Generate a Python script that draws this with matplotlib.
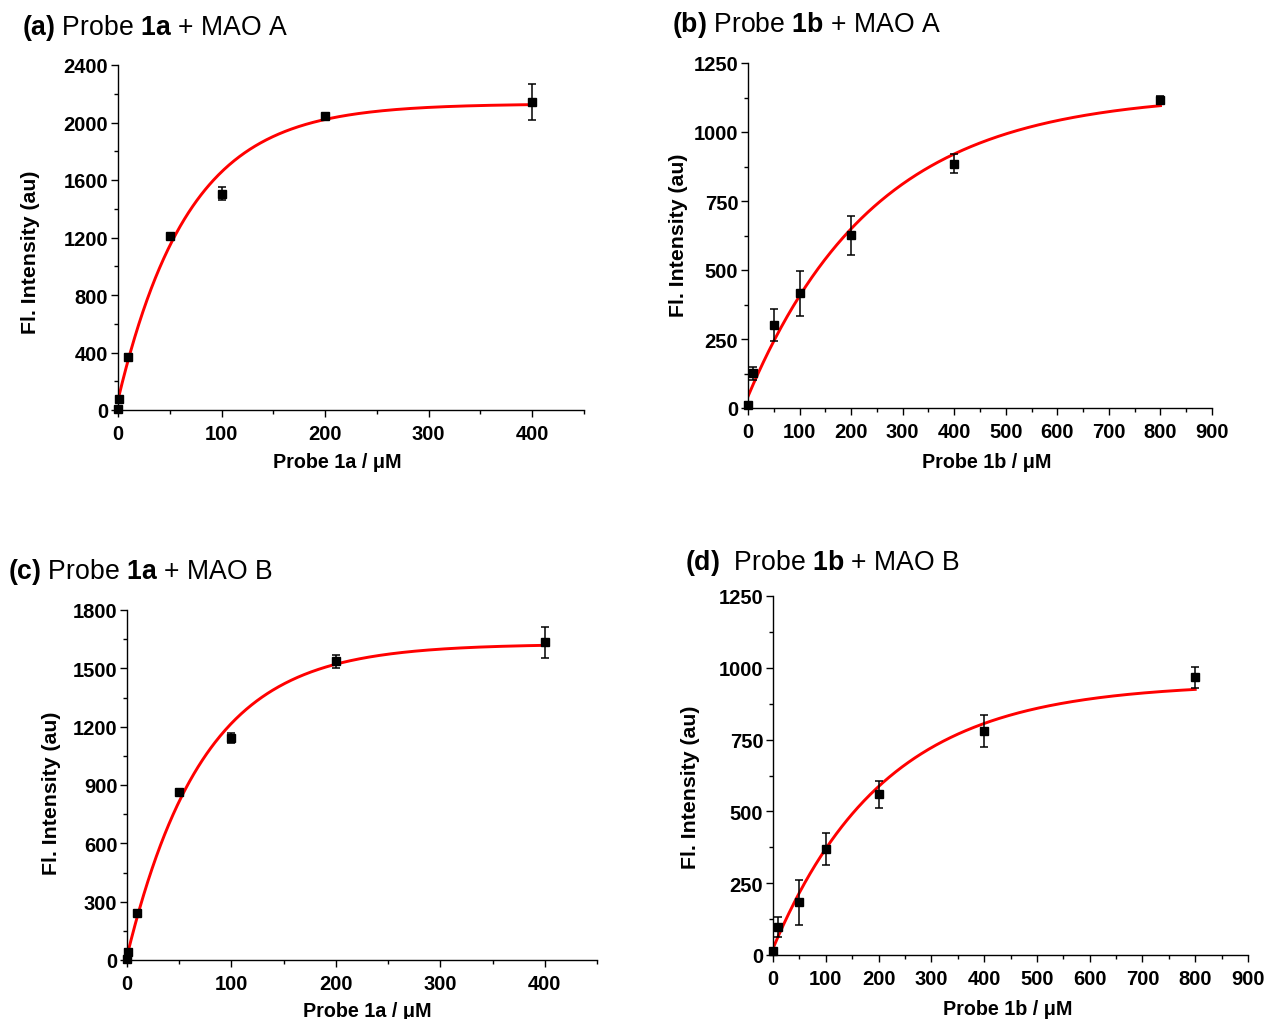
import numpy as np
import matplotlib
matplotlib.use("Agg")
import matplotlib.pyplot as plt
from matplotlib.ticker import MultipleLocator

plt.rcParams['font.family'] = ['Liberation Sans', 'DejaVu Sans']
plt.rcParams['mathtext.fontset'] = 'custom'
plt.rcParams['mathtext.rm'] = 'Liberation Sans'
plt.rcParams['mathtext.bf'] = 'Liberation Sans:bold'

# ---- data ----
xa = [0, 1, 10, 50, 100, 200, 400]
ya = [8, 75, 368, 1210, 1505, 2042, 2142]
ea = [5, 15, 20, 15, 43, 20, 125]

xb = [0, 10, 50, 100, 200, 400, 800]
yb = [12, 126, 301, 415, 626, 885, 1116]
eb = [8, 24, 58, 81, 70, 35, 15]

xc = [0, 1, 10, 50, 100, 200, 400]
yc = [5, 42, 240, 866, 1143, 1536, 1634]
ec = [3, 15, 12, 12, 25, 35, 81]

xd = [0, 10, 50, 100, 200, 400, 800]
yd = [14, 99, 183, 369, 559, 779, 967]
ed = [10, 35, 78, 55, 48, 55, 37]

# fitted exponential-rise parameters (y0, A, tau)
fit_a = (70, 2060, 68)
fit_b = (42, 1097, 248)
fit_c = (20, 1605, 73)
fit_d = (23, 923, 212)

titles = [r"$\mathbf{(a)}$ Probe $\mathbf{1a}$ + MAO A",
          r"$\mathbf{(b)}$ Probe $\mathbf{1b}$ + MAO A",
          r"$\mathbf{(c)}$ Probe $\mathbf{1a}$ + MAO B",
          r"$\mathbf{(d)}$  Probe $\mathbf{1b}$ + MAO B"]
xlabels = ["Probe 1a / μM", "Probe 1b / μM", "Probe 1a / μM", "Probe 1b / μM"]
ylabel = "Fl. Intensity (au)"

W, H = 1267, 1020
fig = plt.figure(figsize=(W / 100, H / 100), dpi=100)


def ax_px(l, t, r, b):
    return fig.add_axes([l / W, 1 - b / H, (r - l) / W, (b - t) / H])


panels = [
    dict(box=(118, 66, 584, 411), x=xa, y=ya, e=ea, fit=fit_a, xlim=(0, 450), ylim=(0, 2400),
         xmaj=100, xmin=50, ymaj=400, ymin=200, xfit=400,
         title=(22, 28), ylab=(31, 252), xlab=(337, 463)),
    dict(box=(748, 64, 1212, 409), x=xb, y=yb, e=eb, fit=fit_b, xlim=(0, 900), ylim=(0, 1250),
         xmaj=100, xmin=50, ymaj=250, ymin=125, xfit=800,
         title=(672, 25), ylab=(678, 235), xlab=(987, 463)),
    dict(box=(127, 611, 597, 961), x=xc, y=yc, e=ec, fit=fit_c, xlim=(0, 450), ylim=(0, 1800),
         xmaj=100, xmin=50, ymaj=300, ymin=150, xfit=400,
         title=(8, 572), ylab=(52, 793), xlab=(367, 1012)),
    dict(box=(773, 597, 1248, 956), x=xd, y=yd, e=ed, fit=fit_d, xlim=(0, 900), ylim=(0, 1250),
         xmaj=100, xmin=50, ymaj=250, ymin=125, xfit=800,
         title=(685, 563), ylab=(691, 787), xlab=(1008, 1010)),
]

for i, p in enumerate(panels):
    ax = ax_px(*p['box'])
    ax.set_xlim(*p['xlim'])
    ax.set_ylim(*p['ylim'])
    for s in ['top', 'right']:
        ax.spines[s].set_visible(False)
    for s in ['left', 'bottom']:
        ax.spines[s].set_linewidth(1.0)
    ax.xaxis.set_major_locator(MultipleLocator(p['xmaj']))
    ax.xaxis.set_minor_locator(MultipleLocator(p['xmin']))
    ax.yaxis.set_major_locator(MultipleLocator(p['ymaj']))
    ax.yaxis.set_minor_locator(MultipleLocator(p['ymin']))
    ax.tick_params(which='major', direction='out', length=5, width=1.0)
    ax.tick_params(axis='x', which='major', pad=5)
    ax.tick_params(axis='y', which='major', pad=2)
    ax.tick_params(which='minor', direction='out', length=3, width=1.0)
    for lab in ax.get_xticklabels() + ax.get_yticklabels():
        lab.set_fontweight('bold')
        lab.set_fontsize(14.5)

    y0, A, tau = p['fit']
    xf = np.linspace(0, p['xfit'], 400)
    ax.plot(xf, y0 + A * (1 - np.exp(-xf / tau)), color='#ff0000', lw=2.1, zorder=2)
    ax.errorbar(p['x'], p['y'], yerr=p['e'], fmt='s', color='black', ms=6.3,
                ecolor='black', elinewidth=1.1, capsize=3, capthick=1.1,
                zorder=3, clip_on=False)

    tx, ty = p['title']
    fig.text(tx / W, 1 - ty / H, titles[i], fontsize=19.2,
             ha='left', va='center')
    lx, ly = p['ylab']
    fig.text(lx / W, 1 - ly / H, ylabel, fontsize=15.3, fontweight='bold',
             rotation=90, ha='center', va='center')
    xx, xy = p['xlab']
    fig.text(xx / W, 1 - xy / H, xlabels[i], fontsize=14.2, fontweight='bold',
             ha='center', va='center')

fig.savefig("out.png", dpi=100)
